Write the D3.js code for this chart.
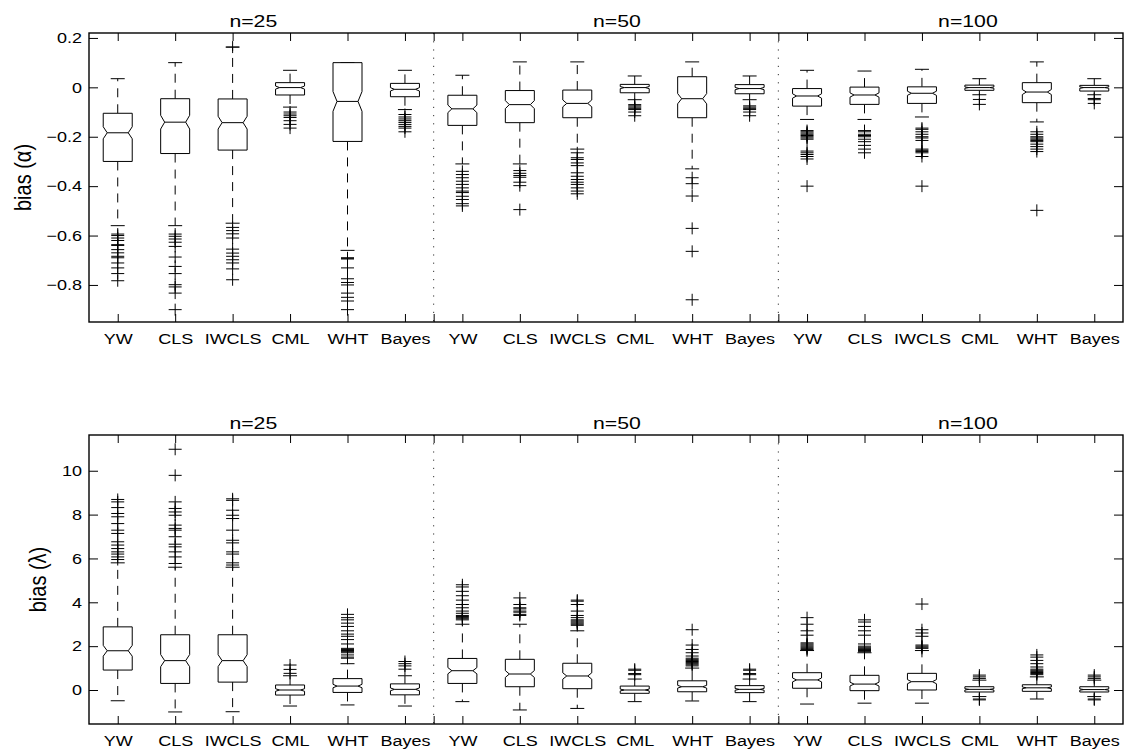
<!DOCTYPE html>
<html>
<head>
<meta charset="utf-8">
<script src="https://cdn.jsdelivr.net/npm/d3@7"></script>
<style>
  body { margin: 0; background: #fff; }
  text { font-family: "Liberation Sans", Arial, Helvetica, sans-serif; fill: #000; }
</style>
</head>
<body>
<div id="chart"></div>
<script>
// estimators repeated for each sample size
const methods = ["YW", "CLS", "IWCLS", "CML", "WHT", "Bayes"];
const sampleSizes = ["n=25", "n=50", "n=100"];

// bias(alpha): 18 boxes, order = n25 x 6 methods, n50 x 6, n100 x 6
const alphaHi  = [0.035, 0.100, 0.163, 0.069, 0.100, 0.069,  0.049, 0.103, 0.103, 0.046, 0.103, 0.046,  0.069, 0.066, 0.073, 0.035, 0.103, 0.035];
const alphaQ3  = [-0.105, -0.046, -0.047, 0.019, 0.100, 0.016,  -0.032, -0.013, -0.011, 0.012, 0.043, 0.011,  -0.005, 0.001, 0.002, 0.009, 0.019, 0.008];
const alphaMed = [-0.184, -0.141, -0.143, -0.001, -0.057, -0.008,  -0.087, -0.070, -0.065, -0.001, -0.046, -0.005,  -0.035, -0.031, -0.024, -0.001, -0.019, -0.001];
const alphaQ1  = [-0.300, -0.268, -0.254, -0.031, -0.219, -0.038,  -0.154, -0.143, -0.123, -0.022, -0.123, -0.026,  -0.076, -0.069, -0.065, -0.012, -0.062, -0.015];
const alphaLo  = [-0.56, -0.56, -0.55, -0.08, -0.66, -0.09,  -0.31, -0.31, -0.25, -0.05, -0.33, -0.05,  -0.13, -0.13, -0.12, -0.03, -0.14, -0.03];
const alphaOut = [
  [-0.594, -0.60, -0.61, -0.62, -0.637, -0.64, -0.657, -0.67, -0.684, -0.69, -0.711, -0.731, -0.754, -0.783],
  [-0.594, -0.603, -0.614, -0.627, -0.644, -0.687, -0.725, -0.754, -0.799, -0.808, -0.833, -0.90],
  [0.163, -0.567, -0.58, -0.593, -0.61, -0.655, -0.671, -0.684, -0.698, -0.711, -0.735, -0.779],
  [-0.10, -0.108, -0.115, -0.122, -0.135, -0.15, -0.165],
  [-0.69, -0.692, -0.695, -0.731, -0.775, -0.79, -0.80, -0.833, -0.85, -0.865, -0.90],
  [-0.11, -0.12, -0.128, -0.135, -0.142, -0.15, -0.158, -0.165, -0.18],
  [-0.34, -0.353, -0.366, -0.38, -0.393, -0.407, -0.42, -0.426, -0.441, -0.454, -0.471, -0.48],
  [-0.337, -0.348, -0.357, -0.364, -0.384, -0.398, -0.495],
  [-0.265, -0.285, -0.292, -0.306, -0.317, -0.346, -0.36, -0.373, -0.384, -0.393, -0.407, -0.42, -0.431],
  [-0.07, -0.075, -0.08, -0.085, -0.09, -0.10, -0.115],
  [-0.366, -0.39, -0.44, -0.571, -0.664, -0.86],
  [-0.075, -0.08, -0.085, -0.09, -0.10, -0.115],
  [-0.175, -0.18, -0.185, -0.19, -0.195, -0.20, -0.205, -0.21, -0.258, -0.265, -0.272, -0.28, -0.29, -0.40],
  [-0.175, -0.18, -0.19, -0.195, -0.20, -0.21, -0.22, -0.235, -0.25, -0.265],
  [-0.165, -0.17, -0.18, -0.19, -0.20, -0.205, -0.215, -0.25, -0.255, -0.26, -0.265, -0.28, -0.40],
  [-0.049, -0.069],
  [-0.18, -0.19, -0.20, -0.205, -0.21, -0.215, -0.22, -0.23, -0.24, -0.25, -0.26, -0.498],
  [-0.045, -0.05, -0.065]
];
const alphaTicks = [-0.8, -0.6, -0.4, -0.2, 0, 0.2];

// bias(lambda)
const lamHi  = [5.8, 5.6, 5.6, 0.65, 1.2, 0.65,  3.0, 3.0, 2.7, 0.5, 1.0, 0.5,  1.8, 1.7, 1.8, 0.45, 0.6, 0.45];
const lamQ3  = [2.88, 2.52, 2.52, 0.23, 0.52, 0.28,  1.44, 1.40, 1.22, 0.18, 0.42, 0.20,  0.79, 0.67, 0.76, 0.15, 0.24, 0.15];
const lamMed = [1.79, 1.34, 1.34, 0.00, 0.18, 0.03,  0.88, 0.73, 0.64, 0.00, 0.15, 0.03,  0.46, 0.27, 0.38, 0.03, 0.10, 0.02];
const lamQ1  = [0.91, 0.30, 0.36, -0.23, -0.11, -0.22,  0.30, 0.15, 0.06, -0.15, -0.08, -0.12,  0.08, -0.03, 0.00, -0.09, -0.06, -0.09];
const lamLo  = [-0.49, -1.00, -0.99, -0.73, -0.68, -0.73,  -0.53, -0.91, -0.84, -0.53, -0.50, -0.53,  -0.64, -0.60, -0.60, -0.30, -0.41, -0.30];
const lamOut = [
  [8.69, 8.58, 8.32, 8.05, 7.90, 7.59, 7.29, 7.14, 6.76, 6.61, 6.45, 6.30, 6.20, 6.07, 5.95],
  [10.98, 9.79, 8.58, 8.28, 8.12, 7.97, 7.52, 7.37, 7.29, 6.99, 6.65, 6.53, 6.30, 6.07, 5.77],
  [8.72, 8.65, 8.20, 7.97, 7.82, 7.29, 6.83, 6.71, 6.30, 6.20, 5.80, 5.70],
  [0.76, 0.94, 1.14],
  [3.45, 3.30, 3.20, 3.05, 2.90, 2.70, 2.55, 2.45, 2.30, 2.10, 1.90, 1.85, 1.80, 1.75, 1.70, 1.60, 1.50, 1.45],
  [0.95, 1.10, 1.20, 1.30],
  [3.20, 3.25, 3.30, 3.35, 3.40, 3.50, 3.60, 3.75, 3.90, 4.10, 4.30, 4.50, 4.70, 4.80],
  [3.40, 3.45, 3.55, 3.60, 3.70, 3.75, 3.90, 4.20],
  [2.95, 3.00, 3.05, 3.10, 3.15, 3.20, 3.30, 3.40, 3.60, 3.90, 4.05, 4.10],
  [0.70, 0.75, 0.90, 0.95],
  [1.10, 1.15, 1.20, 1.25, 1.30, 1.35, 1.40, 1.45, 1.55, 1.70, 1.85, 2.05, 2.75],
  [0.70, 0.75, 0.90, 0.95],
  [1.85, 1.90, 1.95, 2.00, 2.05, 2.10, 2.15, 2.50, 2.70, 3.00, 3.30],
  [1.75, 1.80, 1.85, 1.90, 1.95, 2.00, 2.10, 2.50, 2.70, 2.90, 3.10, 3.20],
  [1.90, 1.95, 2.00, 2.05, 2.45, 2.60, 2.75, 3.92],
  [0.53, 0.60, 0.68, -0.41, -0.45],
  [0.70, 0.75, 0.80, 0.85, 0.90, 0.95, 1.05, 1.20, 1.35, 1.50, 1.60],
  [0.53, 0.60, 0.68, -0.41, -0.45]
];
const lamTicks = [0, 2, 4, 6, 8, 10];

const W = 1133, H = 752;
const stretch = 1.2; // the original text is drawn a bit wide

const svg = d3.select("#chart").append("svg")
  .attr("width", W).attr("height", H);

const xScale = d3.scaleLinear().domain([0.5, 18.5]).range([89, 1123]);
const positions = d3.range(1, methods.length * sampleSizes.length + 1);
const titlePos = [3.36, 9.69, 15.8];

function drawPanel(p) {
  const y = d3.scaleLinear().domain(p.domain).range([p.bottom, p.top]);
  const g = svg.append("g");

  // group separators
  [6.5, 12.5].forEach(s => {
    g.append("line")
      .attr("x1", xScale(s)).attr("x2", xScale(s))
      .attr("y1", p.top).attr("y2", p.bottom)
      .attr("stroke", "#333").attr("stroke-width", 1)
      .attr("stroke-dasharray", "1.2,7");
  });

  // axes with inward ticks
  const tickX = positions.concat([6.5, 12.5]);
  g.append("g").attr("transform", `translate(0,${p.bottom})`)
    .call(d3.axisBottom(xScale).tickValues(tickX).tickSize(-8).tickPadding(11)
      .tickFormat(d => Number.isInteger(d) ? methods[(d - 1) % methods.length] : ""))
    .call(a => a.select(".domain").remove())
    .call(a => a.selectAll("text").attr("font-size", 15).attr("transform", `scale(${stretch},1)`));
  g.append("g").attr("transform", `translate(0,${p.top})`)
    .call(d3.axisTop(xScale).tickValues(tickX).tickSize(-8).tickFormat(""))
    .call(a => a.select(".domain").remove());
  g.append("g").attr("transform", `translate(${xScale.range()[0]},0)`)
    .call(d3.axisLeft(y).tickValues(p.ticks).tickSize(-9).tickPadding(7).tickFormat(p.fmt))
    .call(a => a.select(".domain").remove())
    .call(a => a.selectAll("text").attr("font-size", 15)
      .attr("x", -7 / stretch).attr("transform", `scale(${stretch},1)`));
  g.append("g").attr("transform", `translate(${xScale.range()[1]},0)`)
    .call(d3.axisRight(y).tickValues(p.ticks).tickSize(-9).tickFormat(""))
    .call(a => a.select(".domain").remove());
  g.selectAll(".tick line").attr("stroke", "#000");

  // frame
  g.append("rect")
    .attr("x", xScale.range()[0]).attr("y", p.top)
    .attr("width", xScale.range()[1] - xScale.range()[0])
    .attr("height", p.bottom - p.top)
    .attr("fill", "none").attr("stroke", "#000").attr("stroke-width", 1.4);

  // boxes
  const hw = 14.5, inset = 4, cap = 7, plus = 6.5;
  positions.forEach((pos, i) => {
    const cx = xScale(pos);
    const q3 = y(p.q3[i]), q1 = y(p.q1[i]), md = y(p.med[i]);
    const hi = y(p.hi[i]), lo = y(p.lo[i]);
    const nh = 0.125 * (q1 - q3);
    const bg = g.append("g").attr("stroke", "#000").attr("fill", "none").attr("stroke-width", 1);

    bg.append("line").attr("x1", cx).attr("x2", cx).attr("y1", q3).attr("y2", hi)
      .attr("stroke-dasharray", "9,7");
    bg.append("line").attr("x1", cx).attr("x2", cx).attr("y1", q1).attr("y2", lo)
      .attr("stroke-dasharray", "9,7");
    bg.append("line").attr("x1", cx - cap).attr("x2", cx + cap).attr("y1", hi).attr("y2", hi);
    bg.append("line").attr("x1", cx - cap).attr("x2", cx + cap).attr("y1", lo).attr("y2", lo);

    const path = d3.path();
    path.moveTo(cx - hw, q3);
    path.lineTo(cx + hw, q3);
    path.lineTo(cx + hw, md - nh);
    path.lineTo(cx + hw - inset, md);
    path.lineTo(cx + hw, md + nh);
    path.lineTo(cx + hw, q1);
    path.lineTo(cx - hw, q1);
    path.lineTo(cx - hw, md + nh);
    path.lineTo(cx - hw + inset, md);
    path.lineTo(cx - hw, md - nh);
    path.closePath();
    bg.append("path").attr("d", path.toString()).attr("fill", "#fff");
    bg.append("line").attr("x1", cx - hw + inset).attr("x2", cx + hw - inset)
      .attr("y1", md).attr("y2", md);

    bg.selectAll("path.out")
      .data(p.out[i])
      .join("path")
      .attr("class", "out")
      .attr("d", v => `M${cx - plus},${y(v)}H${cx + plus}M${cx},${y(v) - 6}V${y(v) + 6}`);
  });

  // group titles
  sampleSizes.forEach((s, k) => {
    g.append("text")
      .attr("transform", `translate(${xScale(titlePos[k])},${p.top - 6}) scale(1.25,1)`)
      .attr("text-anchor", "middle")
      .attr("font-size", 17)
      .text(s);
  });

  // y label
  g.append("text")
    .attr("transform", `translate(${p.labelX},${(p.top + p.bottom) / 2}) rotate(-90) scale(1,${stretch})`)
    .attr("text-anchor", "middle")
    .attr("dy", "0.35em")
    .attr("font-size", 20)
    .text(p.label);
}

drawPanel({
  top: 33, bottom: 322, domain: [-0.95, 0.22], ticks: alphaTicks,
  fmt: d => d === 0 ? "0" : d3.format(".1f")(d),
  hi: alphaHi, q3: alphaQ3, med: alphaMed, q1: alphaQ1, lo: alphaLo, out: alphaOut,
  label: "bias (\u03b1)", labelX: 23
});

drawPanel({
  top: 435, bottom: 724, domain: [-1.55, 11.63], ticks: lamTicks,
  fmt: d3.format("d"),
  hi: lamHi, q3: lamQ3, med: lamMed, q1: lamQ1, lo: lamLo, out: lamOut,
  label: "bias (\u03bb)", labelX: 38
});
</script>
</body>
</html>
